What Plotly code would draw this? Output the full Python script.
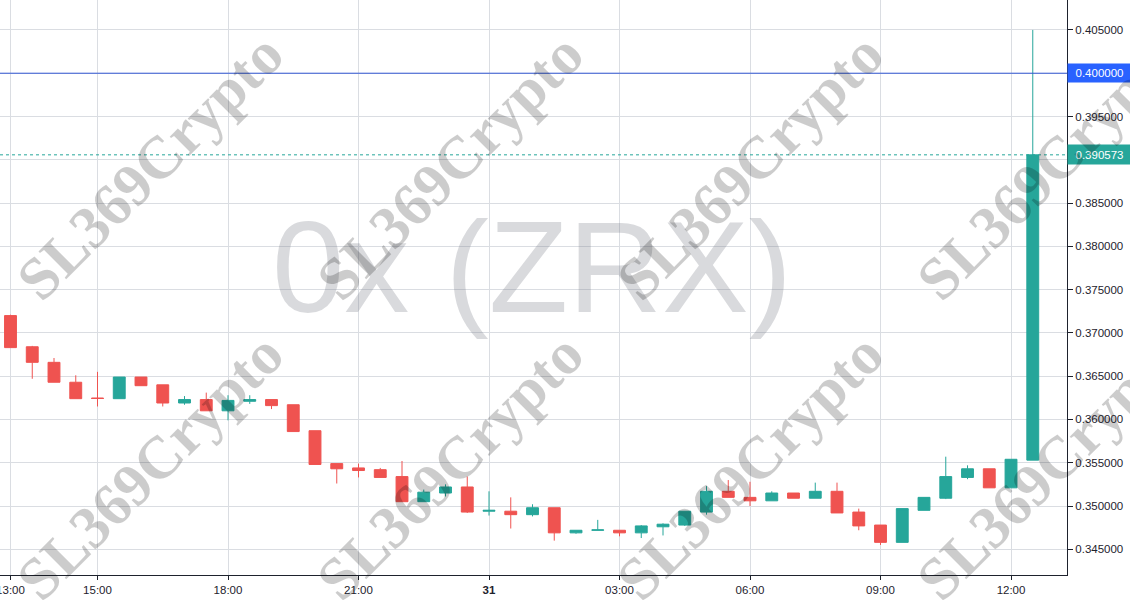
import pandas as pd
import plotly.graph_objects as go

# ---- data (30-minute candles, 0x / ZRX) ----
start_time = "2023-12-30 13:00"
opens = [0.3720, 0.3684, 0.3666, 0.3643, 0.36248, 0.3624, 0.3649, 0.3640, 0.3619, 0.3623,
         0.3610, 0.3621, 0.3623, 0.3617, 0.3587, 0.3549, 0.3544, 0.3542, 0.3534, 0.3505,
         0.3515, 0.3522, 0.3494, 0.3494, 0.3490, 0.3498, 0.3469, 0.3472, 0.3472, 0.3469,
         0.3476, 0.3478, 0.3493, 0.3517, 0.3510, 0.3506, 0.3515, 0.3509, 0.3517, 0.3493,
         0.3478, 0.3458, 0.3495, 0.3509, 0.3533, 0.3543, 0.3521, 0.3553]
highs = [0.3721, 0.3685, 0.3671, 0.3651, 0.3655, 0.3649, 0.3649, 0.3640, 0.3627, 0.3631,
         0.3628, 0.3628, 0.3623, 0.3617, 0.3587, 0.3549, 0.3549, 0.3544, 0.3552, 0.3519,
         0.3525, 0.3534, 0.3517, 0.3510, 0.3502, 0.3498, 0.3472, 0.3484, 0.3472, 0.3478,
         0.3480, 0.3494, 0.3523, 0.3530, 0.3528, 0.3517, 0.3515, 0.3527, 0.3527, 0.3497,
         0.3478, 0.3497, 0.3510, 0.3557, 0.3547, 0.3543, 0.3554, 0.4050]
lows = [0.3683, 0.3647, 0.3643, 0.3624, 0.3615, 0.3624, 0.3639, 0.3615, 0.3617, 0.3610,
        0.3599, 0.3618, 0.3612, 0.3586, 0.3548, 0.3526, 0.3533, 0.3533, 0.3505, 0.3505,
        0.3511, 0.3492, 0.3489, 0.3474, 0.3488, 0.3460, 0.3468, 0.3472, 0.3465, 0.3463,
        0.3466, 0.3477, 0.3490, 0.3510, 0.3500, 0.3506, 0.3509, 0.3509, 0.3492, 0.3472,
        0.3455, 0.3458, 0.3495, 0.3508, 0.3531, 0.3521, 0.3521, 0.3553]
closes = [0.3683, 0.3666, 0.3643, 0.3624, 0.36242, 0.3649, 0.3639, 0.3619, 0.3623, 0.3610,
          0.3622, 0.3623, 0.3616, 0.3586, 0.3548, 0.3543, 0.3541, 0.3533, 0.3505, 0.3516,
          0.3522, 0.3493, 0.3495, 0.3490, 0.3498, 0.3469, 0.3472, 0.34724, 0.3469, 0.3477,
          0.3479, 0.3494, 0.3517, 0.3510, 0.3506, 0.3515, 0.3509, 0.3517, 0.3492, 0.3477,
          0.3458, 0.3497, 0.3510, 0.3534, 0.3543, 0.3521, 0.3554, 0.390573]

tick_times = ["2023-12-30 13:00", "2023-12-30 15:00", "2023-12-30 18:00", "2023-12-30 21:00",
              "2023-12-31 00:00", "2023-12-31 03:00", "2023-12-31 06:00", "2023-12-31 09:00",
              "2023-12-31 12:00"]
tick_labels = ["13:00", "15:00", "18:00", "21:00", "<b>31</b>", "03:00", "06:00", "09:00", "12:00"]
y_ticks = [0.345, 0.350, 0.355, 0.360, 0.365, 0.370, 0.375, 0.380, 0.385, 0.390, 0.395, 0.400, 0.405]
# labels hidden behind the price boxes in the reference (0.390000 and 0.400000)
y_labels = ["0.345000", "0.350000", "0.355000", "0.360000", "0.365000", "0.370000", "0.375000",
            "0.380000", "0.385000", "", "0.395000", "", "0.405000"]
alert_level = 0.400
last_price = closes[-1]

times = pd.date_range(start_time, periods=len(opens), freq="30min")

UP = "#26a69a"
DOWN = "#ef5350"
GRID = "#dadde2"
AXIS = "#1e222d"
FONT = "Liberation Sans"

fig = go.Figure()
fig.add_trace(go.Candlestick(
    x=times, open=opens, high=highs, low=lows, close=closes,
    increasing=dict(line=dict(color=UP, width=1), fillcolor=UP),
    decreasing=dict(line=dict(color=DOWN, width=1), fillcolor=DOWN),
    whiskerwidth=0, showlegend=False, hoverinfo="skip",
))

# horizontal lines
fig.add_shape(type="line", xref="paper", x0=0, x1=1, yref="y", y0=alert_level, y1=alert_level,
              line=dict(color="#3358d4", width=1))
fig.add_shape(type="line", xref="paper", x0=0, x1=1, yref="y", y0=last_price, y1=last_price,
              line=dict(color=UP, width=1, dash="dot"))

annotations = []
# big symbol watermark
annotations.append(dict(text="0x (ZRX)", xref="paper", yref="paper", x=0.4986, y=0.536,
                        xanchor="center", yanchor="middle", showarrow=False,
                        font=dict(family=FONT, size=130, color="rgba(120,123,134,0.28)")))
# price labels on the axis
annotations.append(dict(text="0.400000", xref="paper", yref="y", x=1.0, y=alert_level,
                        xanchor="left", yanchor="middle", showarrow=False, bgcolor="#2962ff",
                        font=dict(family=FONT, size=11.5, color="white"), width=59, height=14,
                        borderpad=2, align="center"))
annotations.append(dict(text="0.390573", xref="paper", yref="y", x=1.0, y=last_price,
                        xanchor="left", yanchor="middle", showarrow=False, bgcolor=UP,
                        font=dict(family=FONT, size=11.5, color="white"), width=59, height=15,
                        borderpad=2, align="center"))
# repeated diagonal watermark
PLOT_W, PLOT_H = 1067.0, 575.0
for cy in (167, 467):
    for cx in (150, 450, 750, 1050):
        annotations.append(dict(text="<b>SL369Crypto</b>", xref="paper", yref="paper",
                                x=cx / PLOT_W, y=1 - cy / PLOT_H, xanchor="center", yanchor="middle",
                                textangle=-45, showarrow=False,
                                font=dict(family="Liberation Serif", size=60, color="rgba(0,0,0,0.2)")))

fig.update_layout(
    width=1130, height=600,
    margin=dict(l=0, r=63, t=0, b=25, pad=0, autoexpand=False),
    paper_bgcolor="white", plot_bgcolor="white",
    boxgap=0.22,
    font=dict(family=FONT, size=12, color=AXIS),
    annotations=annotations,
    xaxis=dict(
        type="date", rangeslider=dict(visible=False),
        range=["2023-12-30 12:45:31", "2023-12-31 13:17:13"],
        tickvals=tick_times, ticktext=tick_labels,
        showgrid=True, gridcolor=GRID, gridwidth=1,
        showline=True, linecolor=AXIS, linewidth=1,
        ticks="outside", ticklen=4, tickcolor=AXIS,
        tickfont=dict(family=FONT, size=11.5, color=AXIS), zeroline=False,
        ticklabeloverflow="allow", automargin=False,
    ),
    yaxis=dict(
        side="right", range=[0.34203, 0.40846],
        tickvals=y_ticks, ticktext=y_labels,
        showgrid=True, gridcolor=GRID, gridwidth=1,
        showline=True, linecolor=AXIS, linewidth=1,
        ticks="outside", ticklen=5, tickcolor=AXIS,
        tickfont=dict(family=FONT, size=11.5, color=AXIS), zeroline=False,
        ticklabeloverflow="allow", automargin=False,
    ),
)

fig.write_html("out.html", config={"displayModeBar": False},
               post_script="document.body.style.margin='0';document.body.style.overflow='hidden';")
